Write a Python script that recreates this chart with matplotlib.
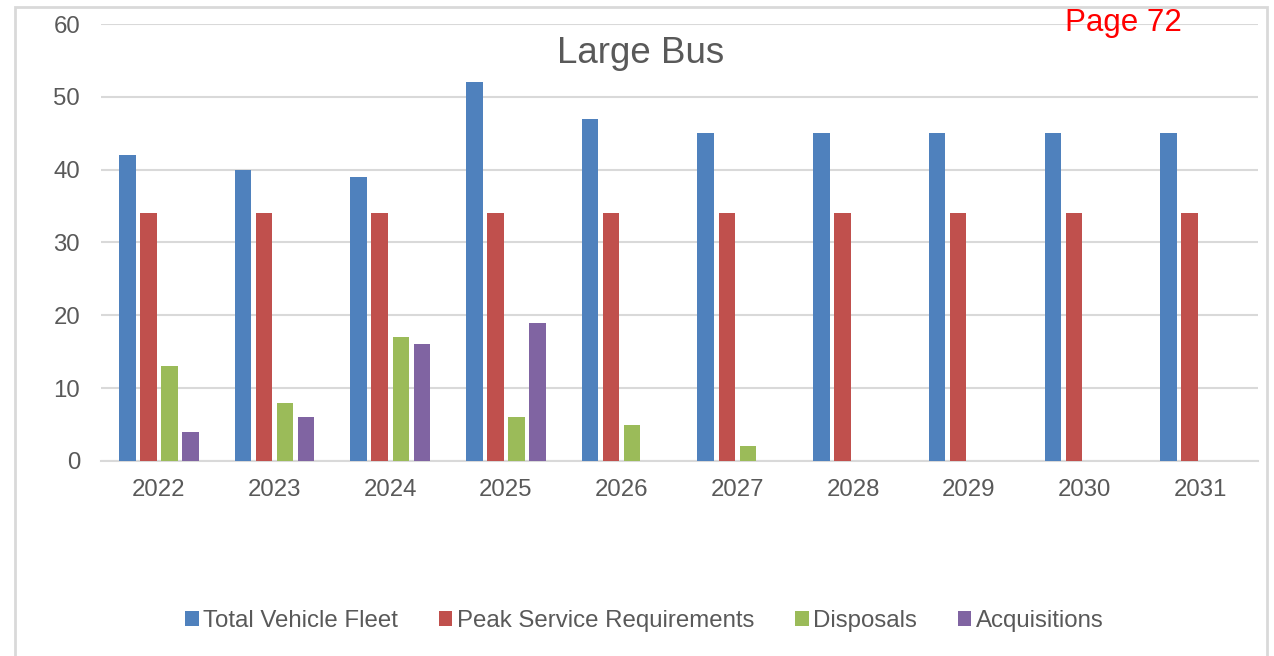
import numpy as np
import matplotlib.pyplot as plt
from matplotlib.patches import Rectangle

plt.rcParams['font.family'] = ['Liberation Sans', 'DejaVu Sans']

years = ['2022', '2023', '2024', '2025', '2026', '2027', '2028', '2029', '2030', '2031']
total_fleet = [42, 40, 39, 52, 47, 45, 45, 45, 45, 45]
peak_service = [34, 34, 34, 34, 34, 34, 34, 34, 34, 34]
disposals = [13, 8, 17, 6, 5, 2, 0, 0, 0, 0]
acquisitions = [4, 6, 16, 19, 0, 0, 0, 0, 0, 0]

series = [
    ('Total Vehicle Fleet', total_fleet, '#4F81BD'),
    ('Peak Service Requirements', peak_service, '#C0504D'),
    ('Disposals', disposals, '#9BBB59'),
    ('Acquisitions', acquisitions, '#8064A2'),
]

txt = '#595959'
fig = plt.figure(figsize=(12.74, 6.56), dpi=100)
ax = fig.add_axes([0.0793, 0.2973, 0.9081, 0.6661])

x = np.arange(len(years))
step = 0.182
width = 0.143
for i, (name, vals, col) in enumerate(series):
    ax.bar(x + (i - 1.5) * step, vals, width=width, color=col, label=name, linewidth=0, zorder=3)

ax.set_xlim(-0.5, len(years) - 0.5)
ax.set_ylim(0, 60)
ax.set_yticks(range(0, 61, 10))
ax.set_xticks(x)
ax.set_xticklabels(years)
ax.tick_params(axis='both', length=0, labelsize=17.3, colors=txt)
ax.tick_params(axis='y', pad=15)
ax.tick_params(axis='x', pad=13)
ax.grid(axis='y', color='#d9d9d9', linewidth=1.5, zorder=0)
for s in ['top', 'right', 'left']:
    ax.spines[s].set_visible(False)
ax.spines['bottom'].set_color('#d9d9d9')
ax.spines['bottom'].set_linewidth(1.5)

fig.text(0.503, 0.918, 'Large Bus', fontsize=26.5, color=txt, ha='center', va='center')
fig.text(0.882, 0.965, 'Page 72', fontsize=22.5, color='red', ha='center', va='center')

leg = fig.legend(loc='center', bbox_to_anchor=(0.506, 0.053), ncol=4, frameon=False,
                 fontsize=17.3, handlelength=0.55, handleheight=0.55, handletextpad=0.2,
                 columnspacing=1.7)
for t in leg.get_texts():
    t.set_color(txt)

fig.patches.append(Rectangle((15 / 1274, -0.05), (1267 - 15) / 1274, 1 - 7 / 656 + 0.05,
                             transform=fig.transFigure, fill=False, edgecolor='#d9d9d9',
                             linewidth=2))

fig.savefig('out.png', dpi=100)
